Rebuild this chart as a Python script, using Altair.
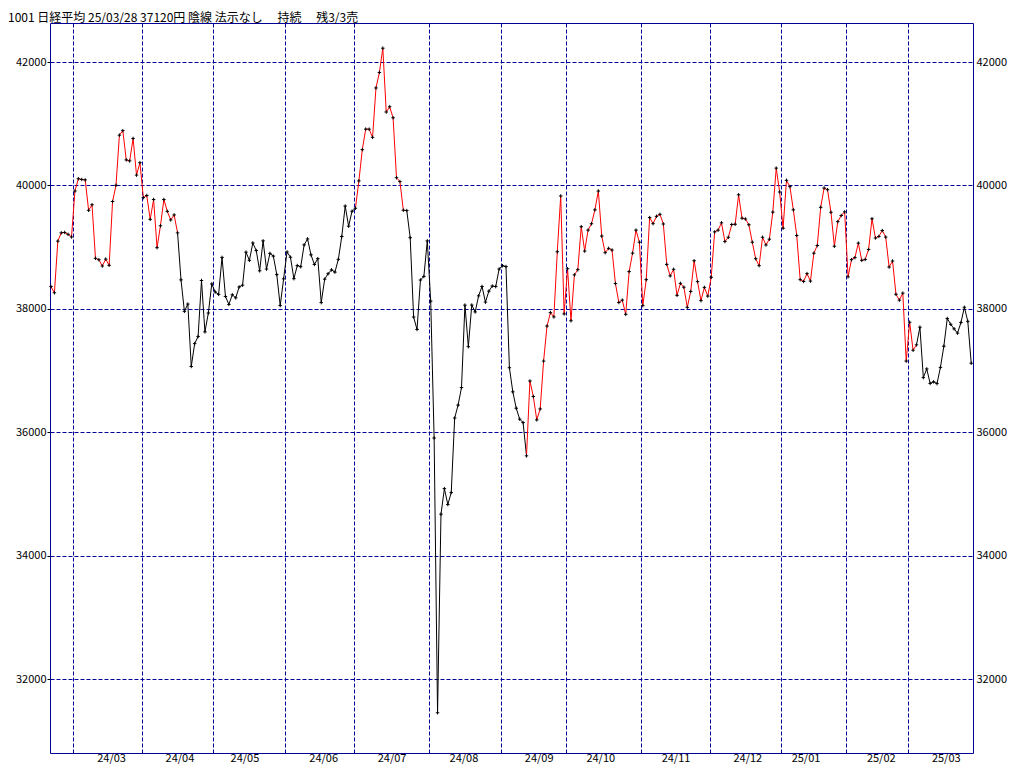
import datetime as dt

import altair as alt
import pandas as pd

# ---------------- data ----------------
title_text = "1001 日経平均 25/03/28 37120円 陰線 法示なし\u3000 持続\u3000 残3/3売"

d_2402 = [20, 21, 22, 26, 27, 28, 29]
c_2402 = [38363, 38262, 39098, 39233, 39239, 39208, 39166]
d_2403 = [1, 4, 5, 6, 7, 8, 11, 12, 13, 14, 15, 18, 19, 21, 22, 25, 26, 27, 28, 29]
c_2403 = [39910, 40109, 40097, 40090, 39598, 39688, 38820, 38797, 38695, 38807,
          38707, 39740, 40003, 40815, 40888, 40414, 40398, 40762, 40168, 40369]
d_2404 = [1, 2, 3, 4, 5, 8, 9, 10, 11, 12, 15, 16, 17, 18, 19, 22, 23, 24, 25, 26, 30]
c_2404 = [39803, 39838, 39451, 39773, 38992, 39347, 39773, 39581, 39442, 39523,
          39232, 38471, 37961, 38079, 37068, 37438, 37552, 38460, 37628, 37934, 38405]
d_2405 = [1, 2, 7, 8, 9, 10, 13, 14, 15, 16, 17, 20, 21, 22, 23, 24, 27, 28, 29, 30, 31]
c_2405 = [38274, 38236, 38835, 38202, 38073, 38229, 38179, 38356, 38385, 38920,
          38787, 39069, 38946, 38617, 39103, 38646, 38900, 38855, 38556, 38054, 38487]
d_2406 = [3, 4, 5, 6, 7, 10, 11, 12, 13, 14, 17, 18, 19, 20, 21, 24, 25, 26, 27, 28]
c_2406 = [38923, 38837, 38490, 38703, 38683, 39038, 39134, 38876, 38720, 38814,
          38102, 38482, 38570, 38633, 38596, 38804, 39173, 39667, 39341, 39583]
d_2407 = [1, 2, 3, 4, 5, 8, 9, 10, 11, 12, 16, 17, 18, 19, 22, 23, 24, 25, 26, 29, 30, 31]
c_2407 = [39631, 40074, 40580, 40913, 40912, 40780, 41580, 41831, 42224, 41190,
          41275, 41097, 40126, 40063, 39599, 39594, 39154, 37869, 37667, 38468, 38526, 39102]
d_2408 = [1, 2, 5, 6, 7, 8, 9, 13, 14, 15, 16, 19, 20, 21, 22, 23, 26, 27, 28, 29, 30]
c_2408 = [38126, 35909, 31458, 34675, 35089, 34831, 35025, 36232, 36442, 36726,
          38062, 37388, 38063, 37951, 38211, 38364, 38110, 38288, 38371, 38362, 38647]
d_2409 = [2, 3, 4, 5, 6, 9, 10, 11, 12, 13, 17, 18, 19, 20, 24, 25, 26, 27, 30]
c_2409 = [38700, 38686, 37047, 36657, 36391, 36215, 36159, 35620, 36833, 36581,
          36203, 36380, 37155, 37723, 37940, 37870, 38926, 39830, 37919]
d_2410 = [1, 2, 3, 4, 7, 8, 9, 10, 11, 15, 16, 17, 18, 21, 22, 23, 24, 25, 28, 29, 30, 31]
c_2410 = [38651, 37808, 38552, 38635, 39332, 38937, 39277, 39380, 39605, 39910,
          39180, 38911, 38981, 38954, 38411, 38104, 38143, 37913, 38605, 38903, 39277, 39081]
d_2411 = [1, 5, 6, 7, 8, 11, 12, 13, 14, 15, 18, 19, 20, 21, 22, 25, 26, 27, 28, 29]
c_2411 = [38053, 38474, 39480, 39381, 39500, 39533, 39376, 38721, 38535, 38642,
          38220, 38414, 38352, 38026, 38283, 38780, 38442, 38134, 38349, 38208]
d_2412 = [2, 3, 4, 5, 6, 9, 10, 11, 12, 13, 16, 17, 18, 19, 20, 23, 24, 25, 26, 27, 30]
c_2412 = [38513, 39248, 39276, 39395, 39091, 39161, 39367, 39372, 39849, 39470,
          39457, 39364, 39081, 38813, 38701, 39161, 39036, 39130, 39568, 40281, 39894]
d_2501 = [6, 7, 8, 9, 10, 14, 15, 16, 17, 20, 21, 22, 23, 24, 27, 28, 29, 30, 31]
c_2501 = [39307, 40083, 39981, 39605, 39190, 38474, 38445, 38572, 38451, 38903,
          39027, 39646, 39959, 39931, 39566, 39016, 39414, 39513, 39572]
d_2502 = [3, 4, 5, 6, 7, 10, 12, 13, 14, 17, 18, 19, 20, 21, 25, 26, 27, 28]
c_2502 = [38520, 38798, 38831, 39066, 38787, 38801, 38963, 39461, 39149, 39174,
          39270, 39164, 38678, 38776, 38237, 38142, 38256, 37155]
d_2503 = [3, 4, 5, 6, 7, 10, 11, 12, 13, 14, 17, 18, 19, 21, 24, 25, 26, 27, 28]
c_2503 = [37785, 37331, 37418, 37704, 36887, 37028, 36793, 36819, 36790, 37053,
          37396, 37845, 37751, 37677, 37608, 37780, 38027, 37799, 37120]

month_keys = ["2024-02", "2024-03", "2024-04", "2024-05", "2024-06", "2024-07", "2024-08",
              "2024-09", "2024-10", "2024-11", "2024-12", "2025-01", "2025-02", "2025-03"]
month_days = [d_2402, d_2403, d_2404, d_2405, d_2406, d_2407, d_2408,
              d_2409, d_2410, d_2411, d_2412, d_2501, d_2502, d_2503]
month_closes = [c_2402, c_2403, c_2404, c_2405, c_2406, c_2407, c_2408,
                c_2409, c_2410, c_2411, c_2412, c_2501, c_2502, c_2503]

# periods drawn in red (signal "on")
red_periods = [("2024-02-20", "2024-04-15"), ("2024-07-01", "2024-07-23"),
               ("2024-09-11", "2025-03-05")]

y_ticks = [32000, 34000, 36000, 38000, 40000, 42000]

# ---------------- build tables ----------------
dates, values = [], []
first_idx = []
label_idx = []
for key, ds, cs in zip(month_keys, month_days, month_closes):
    yy, mm = map(int, key.split("-"))
    first_idx.append(len(values))
    mid = None
    for d, c in zip(ds, cs):
        if mid is None and d >= 15:
            mid = len(values)
        dates.append(dt.date(yy, mm, d).isoformat())
        values.append(c)
    label_idx.append(mid)

n = len(values)
pts = pd.DataFrame({"i": list(range(n)), "close": values, "date": dates})


def is_red(a, b):
    return any(s <= a and b <= e for s, e in red_periods)


segs = pd.DataFrame({
    "i": list(range(n - 1)),
    "i2": list(range(1, n)),
    "c": values[:-1],
    "c2": values[1:],
    "state": ["up" if is_red(dates[k], dates[k + 1]) else "down" for k in range(n - 1)],
})

grid_x = [fi - 0.5 for fi in first_idx[1:]]
labels = pd.DataFrame({
    "pos": [li + 0.7 for li in label_idx[1:]],
    "lab": [k[2:4] + "/" + k[5:7] for k in month_keys[1:]],
})

# ---------------- chart ----------------
W, H = 923, 730
NAVY = "#000099"
FONT = "Noto Sans CJK JP"

xscale = alt.Scale(domain=[-0.29, n - 0.48], nice=False, zero=False)
yscale = alt.Scale(domain=[30806, 42632], nice=False, zero=False)

xaxis = alt.Axis(values=grid_x, grid=True, gridColor=NAVY, gridDash=[4, 2], gridWidth=1,
                 gridOpacity=1, labels=False, ticks=False, domain=False, title=None)
left_axis = alt.Axis(orient="left", values=y_ticks, format="d", grid=True, gridColor=NAVY,
                     gridDash=[4, 2], gridWidth=1, gridOpacity=1, domain=False, ticks=True,
                     tickSize=3, tickColor="black", labelPadding=1, labelFont=FONT,
                     labelFontSize=11, labelColor="black", title=None)
right_axis = alt.Axis(orient="right", values=y_ticks, format="d", grid=False, domain=False,
                      ticks=False, labelPadding=3, labelFont=FONT, labelFontSize=11,
                      labelColor="black", title=None)

seg_layer = alt.Chart(segs).mark_rule(strokeWidth=1).encode(
    x=alt.X("i:Q", scale=xscale, axis=xaxis),
    x2="i2:Q",
    y=alt.Y("c:Q", scale=yscale, axis=right_axis),
    y2="c2:Q",
    color=alt.Color("state:N", scale=alt.Scale(domain=["up", "down"],
                                               range=["#ff0000", "#000000"]), legend=None),
)

pt_layer = alt.Chart(pts).mark_point(shape="M-1,0H1M0,-1V1", size=12, filled=False,
                                     stroke="black", strokeWidth=1, opacity=1).encode(
    x=alt.X("i:Q", scale=xscale, axis=xaxis),
    y=alt.Y("close:Q", scale=yscale, axis=left_axis),
)

lab_layer = alt.Chart(labels).mark_text(font=FONT, fontSize=11, color="black",
                                        baseline="middle", align="center").encode(
    x=alt.X("pos:Q", scale=xscale, axis=xaxis),
    y=alt.value(H + 6),
    text="lab:N",
)

title_layer = alt.Chart(pd.DataFrame({"t": [title_text]})).mark_text(
    font=FONT, fontSize=12, color="black", align="left", baseline="alphabetic").encode(
    x=alt.value(-42),
    y=alt.value(-1),
    text="t:N",
)

chart = alt.layer(seg_layer, pt_layer, lab_layer, title_layer).resolve_axis(
    y="independent"
).properties(
    width=W, height=H,
    autosize=alt.AutoSizeParams(type="none"),
    padding={"left": 42, "top": 15, "right": 43, "bottom": 14},
    background="white",
).configure_view(stroke=NAVY, strokeWidth=1)

chart.save("out.html", embed_options={"renderer": "svg", "actions": False})
